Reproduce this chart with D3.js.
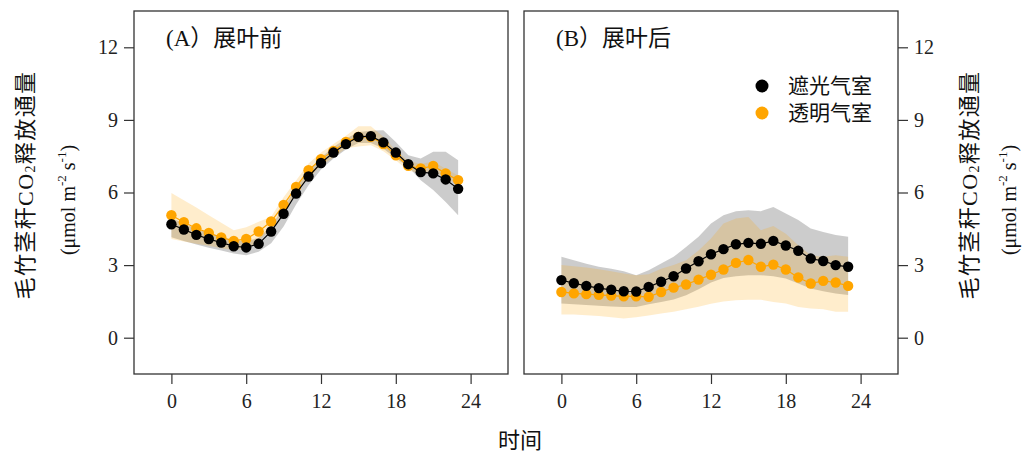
<!DOCTYPE html>
<html>
<head>
<meta charset="utf-8">
<script src="https://cdn.jsdelivr.net/npm/d3@7"></script>
<style>
  body { margin: 0; background: #fff; }
  svg { font-family: "Liberation Serif", "Noto Sans CJK SC", serif; }
</style>
</head>
<body>
<svg id="chart" width="1022" height="454"></svg>
<script>
// Hours of the day
const hours = [0,1,2,3,4,5,6,7,8,9,10,11,12,13,14,15,16,17,18,19,20,21,22,23];
const xTicks = [0, 6, 12, 18, 24];
const yTicks = [0, 3, 6, 9, 12];
const seriesNames = ['遮光气室', '透明气室'];
const panelTitles = ['(A）展叶前', '(B）展叶后'];

// Panel A: before leaf expansion
const preShadeMean = [4.69,4.47,4.25,4.08,3.93,3.78,3.73,3.88,4.39,5.12,5.96,6.66,7.22,7.65,8.00,8.30,8.33,8.07,7.65,7.17,6.84,6.79,6.54,6.15];
const preShadeHigh = [4.95,4.72,4.50,4.33,4.18,4.03,3.98,4.13,4.62,5.38,6.20,6.90,7.45,7.88,8.22,8.50,8.55,8.57,8.09,7.54,7.40,7.68,7.68,7.33];
const preShadeLow  = [4.15,4.00,3.85,3.72,3.60,3.48,3.41,3.55,3.90,4.60,5.50,6.30,6.95,7.40,7.78,8.05,8.05,7.82,7.42,7.06,6.51,6.10,5.61,5.06];
const preClearMean = [5.06,4.77,4.52,4.33,4.14,4.00,4.08,4.39,4.80,5.49,6.23,6.92,7.38,7.72,8.09,8.30,8.30,8.00,7.54,7.10,6.99,7.10,6.79,6.51];
const preClearHigh = [5.98,5.68,5.38,5.06,4.75,4.44,4.56,4.79,5.00,5.80,6.50,7.20,7.65,8.00,8.35,8.74,8.74,8.30,7.75,7.30,7.18,7.28,6.98,6.70];
const preClearLow  = [4.08,3.98,3.88,3.80,3.70,3.62,3.68,3.98,4.55,5.20,5.95,6.62,7.10,7.45,7.83,7.90,7.95,7.70,7.33,6.90,6.80,6.90,6.60,6.32];

// Panel B: after leaf expansion
const postShadeMean = [2.38,2.25,2.14,2.05,1.98,1.92,1.91,2.10,2.31,2.54,2.86,3.16,3.45,3.66,3.86,3.92,3.88,4.00,3.81,3.59,3.27,3.17,3.00,2.93];
const postShadeHigh = [3.34,3.20,3.06,2.93,2.85,2.75,2.58,2.79,3.07,3.34,3.75,4.17,4.72,5.06,5.23,5.27,5.23,5.40,5.13,4.86,4.51,4.37,4.24,4.17];
const postShadeLow  = [1.41,1.38,1.35,1.32,1.29,1.27,1.27,1.38,1.48,1.58,1.75,2.00,2.28,2.47,2.54,2.58,2.58,2.54,2.45,2.24,2.03,1.92,1.83,1.76];
const postClearMean = [1.89,1.83,1.80,1.77,1.74,1.71,1.71,1.69,1.89,2.07,2.20,2.40,2.60,2.82,3.09,3.21,2.93,3.02,2.82,2.49,2.24,2.35,2.28,2.14];
const postClearHigh = [3.00,2.95,2.90,2.83,2.75,2.65,2.58,2.62,2.85,3.00,3.20,3.60,4.10,4.72,4.93,4.99,4.44,4.62,4.30,3.82,3.41,3.34,3.41,3.34];
const postClearLow  = [0.96,0.96,0.93,0.90,0.85,0.79,0.85,0.92,1.00,1.07,1.18,1.28,1.40,1.50,1.55,1.57,1.57,1.48,1.41,1.27,1.21,1.18,1.07,1.07];

const svg = d3.select('#chart');
const panelW = 374, panelH = 363, panelTop = 11;
const colors = { shade: '#000000', clear: '#ffa500' };
const bandFill = { shade: 'rgba(128,128,128,0.4)', clear: 'rgba(255,165,0,0.2)' };

const panels = [
  { x0: 134, title: panelTitles[0], side: 'left',
    shade: [preShadeMean, preShadeLow, preShadeHigh],
    clear: [preClearMean, preClearLow, preClearHigh] },
  { x0: 524, title: panelTitles[1], side: 'right',
    shade: [postShadeMean, postShadeLow, postShadeHigh],
    clear: [postClearMean, postClearLow, postClearHigh] }
];

const x = d3.scaleLinear().domain([-3, 27]).range([0, panelW]);
const y = d3.scaleLinear().domain([-1.5, 13.5]).range([panelH, 0]);

function drawPanel(p) {
  const g = svg.append('g').attr('transform', 'translate(' + p.x0 + ',' + panelTop + ')');

  // Bands first: grey for shaded chamber, orange on top
  const area = d3.area()
    .x((d, i) => x(hours[i]))
    .y0((d) => y(d[0]))
    .y1((d) => y(d[1]));
  for (const key of ['shade', 'clear']) {
    const s = p[key];
    const pairs = hours.map((h, i) => [s[1][i], s[2][i]]);
    g.append('path').attr('d', area(pairs)).attr('fill', bandFill[key]);
  }

  // Lines and points, clear chamber under shaded chamber
  const line = d3.line().x((d, i) => x(hours[i])).y((d) => y(d));
  for (const key of ['clear', 'shade']) {
    const mean = p[key][0];
    g.append('path').attr('d', line(mean))
      .attr('fill', 'none').attr('stroke', colors[key]).attr('stroke-width', 1.2);
    g.selectAll(null).data(mean).enter().append('circle')
      .attr('cx', (d, i) => x(hours[i]))
      .attr('cy', (d) => y(d))
      .attr('r', 5.2)
      .attr('fill', colors[key]);
  }

  // Frame
  g.append('rect').attr('width', panelW).attr('height', panelH)
    .attr('fill', 'none').attr('stroke', '#333').attr('stroke-width', 1.3);

  // X axis
  const xa = g.append('g').attr('transform', 'translate(0,' + panelH + ')')
    .call(d3.axisBottom(x).tickValues(xTicks).tickSize(10).tickPadding(10));
  xa.select('.domain').remove();
  xa.selectAll('line').attr('stroke', '#333').attr('stroke-width', 1.2);
  xa.selectAll('text').attr('font-size', 20).attr('fill', '#222')
    .attr('font-family', 'Liberation Serif');

  // Y axis, left for A and right for B
  const yAxis = p.side === 'left' ? d3.axisLeft(y) : d3.axisRight(y);
  const ya = g.append('g')
    .attr('transform', p.side === 'left' ? 'translate(0,0)' : 'translate(' + panelW + ',0)')
    .call(yAxis.tickValues(yTicks).tickSize(10).tickPadding(6));
  ya.select('.domain').remove();
  ya.selectAll('line').attr('stroke', '#333').attr('stroke-width', 1.2);
  ya.selectAll('text').attr('font-size', 20).attr('fill', '#222')
    .attr('font-family', 'Liberation Serif');

  // Panel title
  g.append('text').attr('x', 32).attr('y', 35)
    .attr('font-size', 23).attr('fill', '#111').text(p.title);

  // Y axis title
  const cx = p.side === 'left' ? 25 - p.x0 : 969 - p.x0;
  const cx2 = p.side === 'left' ? 68 - p.x0 : 1009 - p.x0;
  const t1 = g.append('text')
    .attr('transform', 'translate(' + cx + ',' + (185 - panelTop) + ') rotate(-90)')
    .attr('text-anchor', 'middle').attr('dominant-baseline', 'central')
    .attr('font-size', 22).attr('letter-spacing', 1.4).attr('fill', '#111');
  t1.append('tspan').text('毛竹茎秆CO');
  t1.append('tspan').attr('font-size', 14).attr('dy', 5).text('2');
  t1.append('tspan').attr('dy', -5).text('释放通量');

  const t2 = g.append('text')
    .attr('transform', 'translate(' + cx2 + ',' + (200 - panelTop) + ') rotate(-90)')
    .attr('text-anchor', 'middle').attr('dominant-baseline', 'central')
    .attr('font-size', 20).attr('fill', '#111');
  t2.append('tspan').text('(μmol m');
  t2.append('tspan').attr('font-size', 13).attr('dy', -7).text('-2');
  t2.append('tspan').attr('dy', 7).text(' s');
  t2.append('tspan').attr('font-size', 13).attr('dy', -7).text('-1');
  t2.append('tspan').attr('dy', 7).text(')');

  return g;
}

const gs = panels.map(drawPanel);

// Legend in panel B
const legend = svg.append('g').attr('transform', 'translate(762,86)');
const legendKeys = ['shade', 'clear'];
legendKeys.forEach((key, i) => {
  legend.append('circle').attr('cx', 0).attr('cy', i * 27).attr('r', 6.5).attr('fill', colors[key]);
  legend.append('text').attr('x', 26).attr('y', i * 27)
    .attr('dominant-baseline', 'central').attr('font-size', 21).attr('fill', '#111')
    .text(seriesNames[i]);
});

// Shared x axis title
svg.append('text').attr('x', 520).attr('y', 440)
  .attr('text-anchor', 'middle').attr('dominant-baseline', 'central')
  .attr('font-size', 22).attr('fill', '#111').text('时间');
</script>
</body>
</html>
